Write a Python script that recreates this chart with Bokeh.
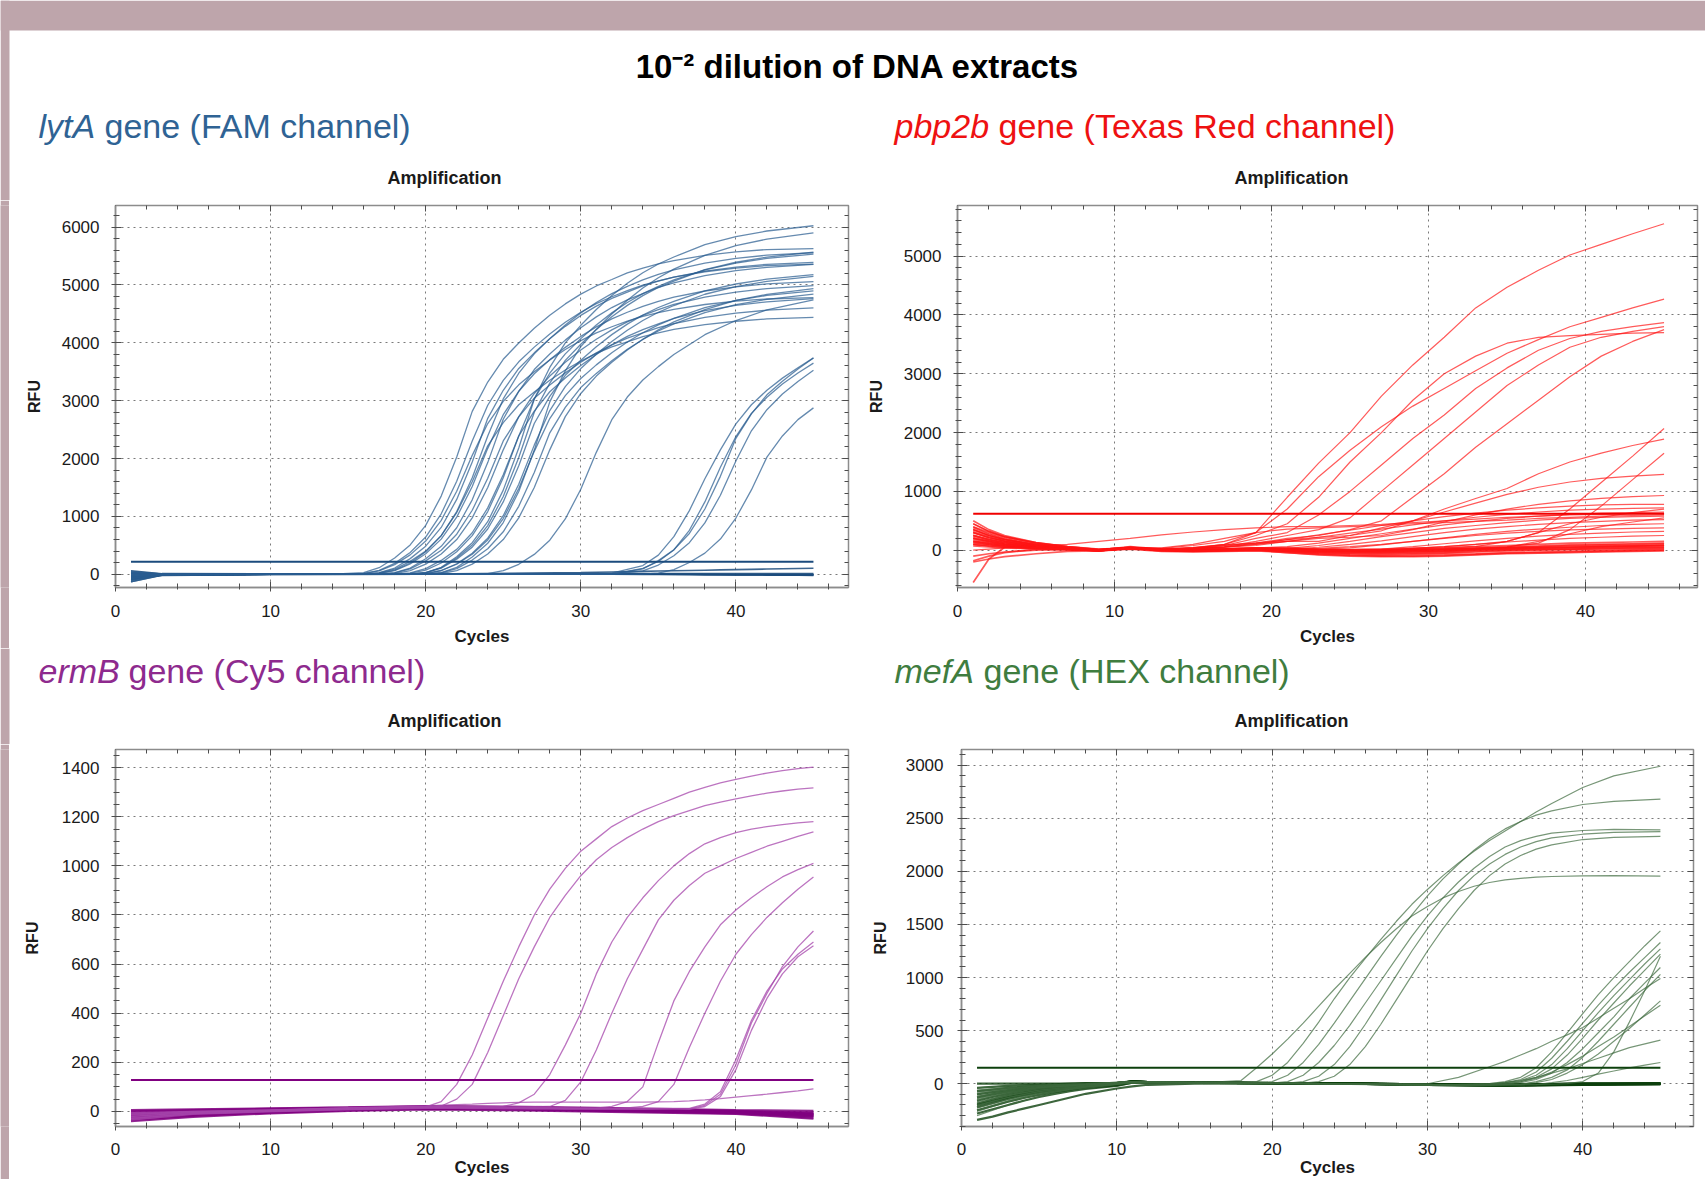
from bokeh.plotting import figure
from bokeh.models import (Range1d, LinearAxis, SingleIntervalTicker, Label,
                          BoxAnnotation, ColumnDataSource)
from bokeh.layouts import column, row
from bokeh.embed import file_html
from bokeh.resources import INLINE

FONT = "Liberation Sans"

# ------------------------------------------------------------------ data
# lytA (FAM)
LYTA_CYC = [1, 3, 10, 14, 16, 17, 18, 19, 20, 21, 22, 23, 24, 25, 26, 27, 28, 29,
            30, 31, 32, 33, 34, 35, 36, 38, 40, 42, 45]
LYTA_EARLY = [
    [-40, -5, 0, 0, 28, 113, 282, 507, 845, 1351, 2027, 2815, 3322, 3716, 3997, 4251, 4476, 4673, 4842, 4983, 5095, 5208, 5292, 5365, 5422, 5512, 5574, 5613, 5630],
    [20, 5, 0, 0, 12, 60, 167, 335, 574, 932, 1434, 2055, 2605, 2988, 3274, 3501, 3705, 3884, 4039, 4171, 4278, 4374, 4457, 4524, 4579, 4663, 4720, 4758, 4780],
    [-15, -2, 0, 0, 13, 67, 188, 376, 643, 1045, 1608, 2305, 2921, 3350, 3672, 3926, 4154, 4355, 4529, 4677, 4797, 4904, 4998, 5073, 5135, 5229, 5293, 5336, 5360],
    [-90, -10, 0, 0, 0, 27, 108, 270, 485, 809, 1294, 1940, 2695, 3180, 3557, 3827, 4069, 4285, 4474, 4635, 4770, 4878, 4986, 5067, 5137, 5239, 5309, 5358, 5390],
    [50, 5, 0, 0, 0, 22, 89, 222, 400, 666, 1066, 1598, 2220, 2620, 2930, 3152, 3352, 3530, 3685, 3818, 3929, 4018, 4107, 4174, 4231, 4316, 4373, 4413, 4440],
    [-60, -8, 0, 0, 0, 13, 63, 177, 354, 607, 987, 1518, 2176, 2758, 3163, 3466, 3706, 3922, 4111, 4276, 4415, 4529, 4630, 4718, 4789, 4896, 4969, 5020, 5057],
    [-45, -5, 0, 0, 0, 14, 70, 195, 389, 667, 1084, 1668, 2391, 3030, 3475, 3809, 4073, 4309, 4518, 4698, 4851, 4976, 5087, 5185, 5263, 5379, 5460, 5515, 5557],
    [-20, 0, 0, 0, 0, 0, 23, 92, 231, 415, 692, 1106, 1660, 2305, 2720, 3043, 3273, 3481, 3665, 3826, 3965, 4080, 4172, 4264, 4333, 4439, 4513, 4564, 4605],
    [-110, -12, 0, 0, 0, 0, 27, 107, 268, 482, 804, 1286, 1930, 2680, 3162, 3538, 3806, 4047, 4261, 4449, 4610, 4744, 4851, 4958, 5038, 5162, 5247, 5306, 5355],
    [30, 3, 0, 0, 0, 0, 13, 63, 175, 350, 600, 975, 1500, 2150, 2725, 3125, 3425, 3663, 3875, 4063, 4225, 4363, 4475, 4575, 4663, 4790, 4878, 4938, 4990],
    [25, 2, 0, 0, 0, 0, 0, 24, 96, 239, 430, 717, 1147, 1721, 2390, 2820, 3155, 3394, 3609, 3800, 3967, 4111, 4230, 4326, 4422, 4555, 4646, 4708, 4766],
    [-50, -6, 0, 0, 0, 0, 0, 14, 70, 195, 389, 667, 1084, 1668, 2391, 3030, 3475, 3809, 4073, 4309, 4518, 4698, 4851, 4976, 5087, 5263, 5379, 5460, 5535],
    [10, 0, 0, 0, 0, 0, 0, 0, 26, 104, 261, 469, 782, 1250, 1876, 2605, 3074, 3439, 3699, 3934, 4142, 4324, 4481, 4611, 4715, 4897, 5017, 5101, 5179],
    [-55, -6, 0, 0, 0, 0, 0, 0, 28, 112, 281, 504, 841, 1344, 2017, 2800, 3304, 3697, 3976, 4229, 4452, 4648, 4817, 4956, 5068, 5264, 5393, 5483, 5567],
    [-130, -15, -2, 0, 0, 0, 0, 0, 30, 121, 303, 545, 909, 1454, 2182, 3030, 3575, 4000, 4303, 4575, 4818, 5030, 5212, 5363, 5484, 5696, 5836, 5933, 6024],
    [-70, -8, 0, 0, 0, 0, 0, 0, 12, 62, 173, 346, 593, 963, 1482, 2124, 2692, 3088, 3384, 3619, 3829, 4014, 4174, 4310, 4421, 4607, 4733, 4819, 4900],
    [40, 4, 0, 0, 0, 0, 0, 0, 13, 65, 182, 363, 623, 1012, 1557, 2232, 2829, 3244, 3555, 3802, 4022, 4217, 4386, 4528, 4645, 4840, 4972, 5063, 5148],
    [-30, -4, 0, 0, 0, 0, 0, 0, 0, 30, 119, 298, 536, 894, 1430, 2146, 2980, 3516, 3934, 4232, 4500, 4738, 4947, 5126, 5275, 5513, 5680, 5793, 5900],
    [-80, -10, 0, 0, 0, 0, 0, 0, 0, 24, 98, 245, 440, 734, 1174, 1760, 2445, 2885, 3227, 3472, 3692, 3888, 4059, 4205, 4328, 4523, 4660, 4753, 4841],
    [0, 0, 0, 0, 0, 0, 0, 0, 0, 13, 63, 175, 350, 600, 975, 1500, 2150, 2725, 3125, 3425, 3663, 3875, 4063, 4225, 4363, 4575, 4733, 4838, 4938],
    [-100, -10, 0, 0, 0, 0, 0, 0, 0, 0, 0, 0, 12, 61, 172, 343, 588, 956, 1470, 2107, 2671, 3063, 3357, 3589, 3798, 4141, 4386, 4569, 4741],
]
LYTA_LATE_CYC = [1, 3, 10, 20, 30, 32, 34, 35, 36, 37, 38, 39, 40, 41, 42, 43, 44, 45]
LYTA_LATE = [
    [-20, 0, 0, 0, 0, 20, 150, 330, 650, 1100, 1650, 2150, 2600, 2930, 3180, 3390, 3570, 3740],
    [15, 0, 0, 0, 0, 0, 57, 159, 319, 546, 887, 1365, 1957, 2480, 2844, 3117, 3333, 3526],
    [-60, 0, 0, 0, 0, 0, 94, 235, 423, 705, 1128, 1692, 2350, 2773, 3102, 3337, 3549, 3737],
    [-30, 0, 0, 0, 0, 0, 0, 20, 81, 203, 365, 608, 972, 1458, 2025, 2390, 2673, 2876],
    [0, 0, 0, 0, 0, 0, 100, 220, 420, 760, 1250, 1850, 2380, 2780, 3060, 3290, 3480, 3650],
]
LYTA_FLAT = [
    [-130, -15, -5, 0, 0, 0, 0, 0, 0, -5, -5, -5, -10, -10, -10, -15, -15, -20],
    [60, 10, 5, 5, 10, 10, 10, 10, 10, 10, 10, 10, 10, 10, 10, 10, 10, 10],
    [-80, -20, -5, 0, 0, 0, -5, -5, -5, -5, -10, -10, -10, -10, -15, -15, -15, -15],
    [-50, -5, 0, 5, 30, 40, 50, 55, 60, 65, 70, 75, 80, 85, 90, 95, 100, 103],
    [20, 0, 0, 0, 0, 0, 0, 0, 0, 0, 0, 0, 0, 0, 0, 0, 0, 0],
    [-100, -10, 0, 0, 0, 0, 0, 0, -5, -5, -5, -8, -8, -8, -10, -10, -12, -12],
]
LYTA_THRESHOLD = 218

# pbp2b (Texas Red)
PBP_CYC = [1, 2, 3, 5, 7, 9, 11, 13, 15, 17, 19, 21, 23, 25, 27, 29, 31, 33, 35, 37, 39, 41, 43, 45]
PBP_RISING = [
    [300, 210, 150, 75, 30, 0, 40, 10, 40, 100, 300, 900, 1480, 2000, 2620, 3150, 3620, 4120, 4470, 4760, 5020, 5200, 5380, 5550],
    [200, 150, 110, 60, 25, 0, 40, 30, 80, 150, 300, 700, 1250, 1700, 2100, 2450, 2750, 3050, 3350, 3580, 3800, 3960, 4120, 4270],
    [450, 320, 230, 120, 50, 10, 50, 20, 30, 100, 250, 450, 900, 1500, 2000, 2550, 3000, 3300, 3520, 3620, 3650, 3670, 3690, 3700],
    [150, 110, 80, 40, 15, -10, 30, 0, 20, 80, 200, 300, 600, 1000, 1450, 1900, 2300, 2750, 3100, 3400, 3600, 3720, 3800, 3870],
    [250, 180, 130, 65, 25, 0, 40, 10, 20, 60, 150, 250, 350, 550, 1000, 1450, 1900, 2350, 2800, 3150, 3450, 3620, 3720, 3800],
    [100, 70, 50, 25, 10, -10, 30, 0, 10, 50, 120, 200, 250, 350, 500, 900, 1300, 1750, 2150, 2550, 2950, 3300, 3550, 3750],
    [350, 250, 180, 90, 35, 0, 40, 20, 50, 90, 120, 150, 150, 250, 330, 500, 700, 880, 1050, 1300, 1500, 1650, 1780, 1890],
    [200, 140, 100, 50, 20, -10, 30, 10, 40, 80, 120, 180, 220, 250, 380, 500, 650, 800, 950, 1070, 1160, 1220, 1260, 1290],
    [120, 90, 65, 35, 15, -5, 35, 10, 30, 60, 100, 150, 200, 220, 250, 350, 480, 600, 700, 780, 840, 880, 910, 930],
    [400, 280, 200, 100, 40, 0, 40, 0, -20, -10, 0, -20, -30, -20, 0, 30, 60, 100, 150, 300, 700, 1150, 1600, 2070],
    [180, 130, 90, 45, 20, -10, 30, 0, -10, 0, 10, -10, -30, -40, -20, 0, 20, 40, 60, 120, 350, 750, 1200, 1650],
    [0, 20, 40, 80, 100, 150, 200, 260, 310, 350, 380, 400, 400, 420, 440, 470, 500, 530, 560, 580, 600, 610, 620, 630],
]
PBP_MID = [
    [350, 250, 180, 90, 35, 0, 40, 20, 40, 50, 100, 180, 260, 340, 420, 500, 570, 630, 680, 720, 750, 770, 780, 780],
    [220, 160, 110, 55, 20, -5, 35, 10, 30, 50, 80, 150, 220, 290, 360, 430, 500, 560, 610, 650, 680, 700, 710, 720],
    [300, 210, 150, 75, 30, 0, 40, 10, 20, 30, 40, 60, 120, 200, 280, 360, 430, 490, 540, 580, 610, 630, 640, 650],
    [160, 115, 80, 40, 15, -5, 35, 5, 10, 20, 25, 30, 80, 150, 230, 300, 370, 420, 470, 510, 540, 560, 570, 580],
    [260, 190, 135, 70, 25, 0, 40, 10, 0, 10, 20, 20, 50, 100, 160, 230, 300, 360, 400, 440, 470, 490, 510, 520],
    [130, 95, 70, 35, 15, -5, 35, 5, 0, 5, 10, 10, 20, 40, 90, 150, 210, 270, 320, 360, 390, 420, 440, 450],
    [380, 270, 190, 95, 40, 5, 45, 15, 10, 15, 20, 25, 30, 60, 100, 150, 200, 250, 290, 320, 345, 360, 370, 380],
    [90, 65, 45, 25, 10, -10, 30, 0, -10, -5, 0, 0, 0, 10, 20, 60, 110, 160, 200, 240, 270, 290, 310, 320],
    [240, 170, 120, 60, 25, 0, 40, 40, 100, 200, 300, 360, 380, 400, 420, 450, 470, 490, 510, 540, 560, 580, 590, 600],
    [70, 50, 35, 20, 5, -10, 30, 0, -15, -10, -5, -10, -20, -10, 0, 30, 60, 100, 140, 170, 200, 220, 240, 250],
    [320, 230, 160, 80, 30, 0, 40, 10, 0, 10, 20, 10, 0, 0, 10, 20, 40, 60, 150, 300, 450, 560, 640, 700],
    [140, 100, 70, 35, 15, -5, 35, 5, -5, 0, 10, 0, -10, -10, 0, 10, 20, 30, 50, 150, 280, 400, 480, 550],
]
PBP_BASE = [
    [500, 350, 250, 130, 60, 20, 40, 10, 0, 10, 20, 0, -30, -40, -40, -30, -20, 0, 20, 30, 40, 50, 60, 70],
    [400, 300, 220, 120, 60, 10, 50, 0, -10, 0, 10, -20, -50, -60, -60, -50, -40, -20, 0, 10, 20, 30, 40, 50],
    [350, 250, 180, 100, 40, 0, 30, -10, -20, -10, 0, -40, -80, -100, -110, -100, -90, -70, -50, -40, -30, -20, -10, 0],
    [300, 220, 160, 90, 40, 0, 60, 20, 10, 20, 40, 30, 10, 0, 0, 10, 20, 30, 50, 60, 80, 90, 100, 110],
    [250, 180, 130, 70, 30, -10, 20, -20, -30, -20, -10, -40, -70, -90, -100, -110, -100, -80, -60, -50, -40, -30, -20, -10],
    [200, 150, 100, 60, 20, -10, 30, -10, -10, 0, 20, 10, -10, -20, -30, -20, -10, 10, 30, 40, 50, 60, 70, 80],
    [150, 120, 90, 50, 20, -5, 40, 0, -5, 5, 15, 0, -20, -30, -40, -30, -20, 0, 10, 20, 20, 30, 40, 40],
    [100, 80, 60, 40, 20, 0, 30, 0, 0, 10, 30, 20, 0, -10, -10, 0, 10, 20, 40, 50, 60, 70, 80, 90],
    [-100, -60, -30, 0, 10, 0, 40, 10, 0, 10, 20, -10, -40, -60, -70, -60, -50, -30, -10, 0, 10, 10, 20, 30],
    [-200, -150, -110, -60, -20, -10, 30, 0, -10, 0, 10, -20, -60, -80, -90, -80, -70, -60, -40, -30, -20, -10, 0, 10],
    [-550, -150, 50, 80, 40, 0, 40, 10, 0, 10, 30, 10, -10, -20, -20, -10, 0, 20, 30, 40, 50, 60, 70, 80],
    [450, 320, 230, 130, 60, 10, 50, 10, 0, 20, 40, 40, 20, 10, 20, 30, 40, 60, 80, 100, 120, 130, 140, 150],
    [-180, -100, -40, 20, 30, 10, 50, 20, 10, 20, 30, 20, 0, -10, -10, 0, 10, 30, 50, 70, 90, 100, 110, 120],
]
PBP_THRESHOLD = 622

# ermB (Cy5)
ERMB_CYC = [1, 5, 10, 15, 20, 21, 22, 23, 24, 25, 26, 27, 28, 29, 30, 31, 32, 33,
            34, 35, 36, 37, 38, 39, 40, 41, 42, 43, 44, 45]
ERMB_CURVES = [
    [-10, 0, 5, 12, 18, 40, 110, 230, 380, 530, 670, 800, 905, 990, 1060, 1110, 1160, 1195, 1225, 1250, 1275, 1300, 1320, 1338, 1352, 1366, 1378, 1388, 1396, 1402],
    [-20, -5, 3, 10, 15, 22, 50, 110, 240, 390, 540, 670, 790, 880, 960, 1025, 1075, 1115, 1150, 1180, 1205, 1225, 1245, 1260, 1273, 1285, 1296, 1305, 1313, 1318],
    [-25, -8, 2, 10, 15, 16, 17, 18, 19, 20, 35, 70, 150, 270, 400, 560, 690, 790, 870, 940, 1000, 1050, 1090, 1115, 1135, 1150, 1160, 1168, 1175, 1180],
    [-15, -3, 4, 12, 18, 18, 18, 18, 18, 18, 18, 19, 20, 45, 120, 250, 400, 540, 660, 780, 860, 920, 970, 1000, 1030, 1055, 1080, 1100, 1120, 1138],
    [-30, -10, 0, 8, 14, 14, 14, 13, 13, 12, 12, 12, 12, 12, 12, 13, 20, 40, 100, 280, 450, 570, 670, 760, 820, 870, 915, 955, 985, 1010],
    [-5, 0, 6, 14, 20, 20, 19, 19, 18, 18, 17, 16, 15, 14, 13, 12, 12, 14, 20, 40, 110, 260, 400, 530, 640, 720, 790, 850, 905, 955],
    [-35, -12, -2, 6, 12, 12, 12, 11, 11, 10, 10, 9, 9, 8, 8, 8, 8, 8, 8, 9, 10, 10, 25, 70, 190, 360, 480, 590, 670, 735],
    [-12, -2, 5, 12, 18, 18, 17, 17, 16, 16, 15, 15, 14, 14, 13, 13, 12, 12, 12, 12, 12, 12, 30, 80, 210, 370, 490, 580, 640, 690],
    [-28, -9, 1, 9, 15, 15, 15, 14, 14, 13, 13, 12, 12, 11, 11, 10, 10, 10, 10, 10, 10, 8, 20, 60, 170, 330, 460, 560, 630, 675],
    [-20, -5, 5, 15, 22, 25, 28, 30, 33, 35, 37, 38, 38, 38, 38, 38, 38, 38, 38, 39, 40, 43, 47, 52, 58, 64, 70, 77, 84, 92],
]
ERMB_BASE_CYC = [1, 5, 10, 15, 20, 25, 30, 35, 40, 45]
ERMB_BASE = [
    [-35, -18, -5, 5, 10, 8, 3, -2, -8, -25],
    [-20, -10, 0, 8, 14, 12, 8, 3, -3, -15],
    [-5, 0, 5, 12, 18, 15, 10, 5, 0, -10],
    [0, 5, 10, 15, 20, 18, 12, 8, 2, -5],
    [-28, -12, -3, 6, 12, 10, 5, 0, -5, -18],
    [-12, -5, 3, 10, 16, 14, 9, 4, -2, -8],
    [5, 8, 12, 16, 22, 20, 15, 10, 5, 2],
    [-40, -22, -8, 2, 8, 5, 0, -5, -10, -30],
    [-15, -6, 2, 9, 15, 13, 7, 2, -4, -12],
    [-25, -14, -2, 7, 13, 11, 6, 1, -6, -20],
]
ERMB_THRESHOLD = 128

# mefA (HEX)
MEFA_CYC = [1, 3, 5, 8, 11, 15, 18, 19, 20, 21, 22, 23, 24, 25, 26, 27, 28, 29,
            30, 31, 32, 33, 34, 35, 36, 37, 38, 40, 42, 45]
MEFA_EARLY = [
    [-180, -110, -60, -20, 15, 5, 30, 150, 280, 420, 570, 730, 890, 1040, 1190, 1330, 1460, 1580, 1670, 1750, 1810, 1860, 1895, 1920, 1935, 1945, 1952, 1958, 1960, 1955],
    [-120, -70, -35, -10, 20, 5, 5, 20, 80, 200, 380, 580, 800, 1000, 1180, 1360, 1530, 1690, 1830, 1960, 2080, 2190, 2290, 2380, 2470, 2560, 2640, 2790, 2900, 2990],
    [-250, -160, -90, -30, 15, 5, 0, 5, 20, 80, 200, 370, 570, 780, 990, 1200, 1400, 1590, 1770, 1930, 2070, 2200, 2310, 2400, 2470, 2530, 2570, 2630, 2660, 2680],
    [-80, -45, -20, -5, 20, 5, 0, 0, 5, 20, 80, 200, 360, 550, 760, 970, 1180, 1390, 1580, 1750, 1900, 2030, 2140, 2230, 2290, 2330, 2360, 2385, 2395, 2390],
    [-150, -90, -50, -15, 15, 5, 0, 0, 0, 5, 20, 70, 180, 350, 560, 790, 1020, 1250, 1460, 1650, 1820, 1960, 2070, 2160, 2230, 2280, 2315, 2350, 2368, 2375],
    [-210, -130, -75, -25, 15, 5, 0, 0, 0, 0, 5, 20, 70, 180, 350, 560, 790, 1020, 1250, 1460, 1650, 1820, 1960, 2070, 2150, 2210, 2250, 2300, 2320, 2330],
]
MEFA_LATE_CYC = [1, 3, 5, 8, 11, 20, 30, 32, 34, 35, 36, 37, 38, 39, 40, 41, 42, 43, 44, 45]
MEFA_LATE = [
    [-300, -200, -120, -45, 10, 0, 0, 60, 160, 210, 270, 330, 400, 460, 530, 620, 710, 800, 900, 990],
    [-60, -35, -15, 0, 20, 5, -10, -10, 0, 20, 60, 150, 300, 480, 660, 840, 1000, 1150, 1300, 1440],
    [-140, -85, -45, -12, 15, 5, -10, -10, -5, 10, 40, 110, 240, 400, 570, 740, 900, 1050, 1190, 1330],
    [-100, -60, -30, -8, 20, 5, -10, -12, -5, 10, 30, 80, 180, 330, 500, 670, 830, 980, 1130, 1270],
    [-230, -150, -85, -30, 10, 3, -15, -15, -10, -5, 20, 60, 140, 270, 430, 600, 760, 920, 1070, 1220],
    [-170, -105, -60, -20, 15, 5, -10, -12, -10, -5, 10, 40, 100, 200, 330, 480, 630, 800, 950, 1095],
    [-40, -20, -10, 0, 20, 5, -8, -10, -10, -8, -5, 20, 60, 130, 250, 400, 560, 720, 880, 1030],
    [-120, -70, -35, -10, 15, 5, -10, -12, -10, -8, -5, 10, 40, 100, 180, 280, 400, 520, 650, 780],
    [-200, -130, -75, -25, 10, 3, -12, -12, -5, 5, 20, 50, 110, 180, 260, 350, 440, 540, 640, 740],
    [-90, -50, -25, -5, 20, 5, -8, -5, 0, 10, 30, 60, 100, 140, 190, 240, 290, 340, 375, 410],
    [-130, -80, -40, -10, 15, 5, -10, -10, -10, -10, -10, -8, 10, 30, 60, 90, 120, 150, 175, 200],
    [-260, -170, -100, -35, 10, 3, -12, -15, -12, -10, -10, -8, -5, 0, 20, 100, 300, 580, 880, 1200],
]
MEFA_BASE_CYC = [1, 2, 3, 4, 5, 6, 7, 8, 10, 11, 12, 15, 20, 25, 30, 35, 40, 45]
MEFA_BASE = [
    [-340, -310, -270, -235, -200, -165, -130, -95, -45, -25, -10, 0, 5, 0, -10, -15, -5, 0],
    [-250, -210, -170, -135, -105, -80, -60, -40, -15, 10, 15, 10, 5, 0, -10, -15, -5, 0],
    [-220, -180, -140, -110, -85, -60, -40, -25, -5, 20, 15, 10, 5, 0, -10, -20, -10, -5],
    [-190, -150, -115, -85, -60, -40, -25, -15, 0, 20, 15, 10, 5, 0, -5, -10, 0, 0],
    [-160, -125, -95, -70, -50, -35, -20, -10, 0, 25, 15, 10, 5, 0, -8, -12, -5, -2],
    [-130, -100, -75, -55, -40, -25, -15, -5, 5, 25, 15, 10, 5, 0, -5, -10, 0, 0],
    [-100, -80, -60, -45, -30, -20, -10, -5, 5, 20, 15, 10, 5, 0, -5, -10, -5, 0],
    [-70, -55, -40, -30, -20, -12, -6, 0, 5, 20, 15, 10, 5, 0, -5, -10, 0, 5],
    [-40, -30, -20, -15, -10, -5, 0, 0, 5, 20, 15, 10, 5, 0, -5, -8, 0, 0],
    [0, 0, 0, 0, 0, 0, 0, 5, 5, 20, 15, 10, 5, 0, -5, -10, -5, -5],
    [-200, -165, -130, -100, -75, -55, -38, -25, -5, 15, 12, 8, 5, 0, -8, -15, -8, -3],
    [-280, -240, -200, -160, -125, -95, -70, -50, -20, 10, 10, 8, 5, 0, -10, -18, -8, -2],
]
MEFA_THRESHOLD = 150

TITLE = "10\u207b\u00b2 dilution of DNA extracts"
HEADERS = [
    ("lytA", "gene (FAM channel)"),
    ("pbp2b", "gene (Texas Red channel)"),
    ("ermB", "gene (Cy5 channel)"),
    ("mefA", "gene (HEX channel)"),
]
HEADER_COLORS = ["#2f6394", "#ee1111", "#8e2a8e", "#3f7d3f"]

# ------------------------------------------------------------------ helpers
MAUVE = "#bea5ab"
AXIS_GREY = "#8c8c8c"
TICK_COLOR = "#4d4d4d"


def make_panel(width, height, x_end, y_start, y_end, y_interval, y_minor,
               left, right, top, bottom, x_std, x_lab_std, y_std, y_lab_std):
    p = figure(width=width, height=height, title=None,
               x_range=Range1d(0, x_end), y_range=Range1d(y_start, y_end),
               output_backend="svg", toolbar_location=None,
               min_border_left=left, min_border_right=right,
               min_border_top=top, min_border_bottom=bottom,
               background_fill_color="white", border_fill_color="white")
    xt = SingleIntervalTicker(interval=10, num_minor_ticks=5)
    yt = SingleIntervalTicker(interval=y_interval, num_minor_ticks=y_minor)
    p.xaxis.ticker = xt
    p.yaxis.ticker = yt
    p.xgrid.ticker = xt
    p.ygrid.ticker = yt
    p.xaxis.axis_label = "Cycles"
    p.yaxis.axis_label = "RFU"
    for ax in (p.xaxis[0], p.yaxis[0]):
        ax.axis_line_color = AXIS_GREY
        ax.axis_line_width = 1.5
        ax.major_tick_line_color = TICK_COLOR
        ax.minor_tick_line_color = TICK_COLOR
        ax.major_tick_in = 6
        ax.major_tick_out = 4
        ax.minor_tick_in = 4
        ax.minor_tick_out = 2
        ax.major_label_text_font = FONT
        ax.major_label_text_font_size = "17px"
        ax.major_label_text_color = "#1a1a1a"
        ax.axis_label_text_font = FONT
        ax.axis_label_text_font_style = "bold"
        ax.axis_label_text_color = "#1a1a1a"
    p.xaxis.major_label_standoff = x_std
    p.xaxis.axis_label_standoff = x_lab_std
    p.xaxis.axis_label_text_font_size = "17px"
    p.yaxis.major_label_standoff = y_std
    p.yaxis.axis_label_standoff = y_lab_std
    p.yaxis.axis_label_text_font_size = "16px"
    # tick marks on the top and right edges of the frame (no labels drawn)
    for loc, tk in (("above", xt), ("right", yt)):
        ax = LinearAxis(ticker=tk, axis_line_color=None,
                        major_label_text_font_size="1px",
                        major_label_text_color=None, major_label_standoff=0,
                        major_tick_in=6, major_tick_out=0,
                        minor_tick_in=4, minor_tick_out=0,
                        major_tick_line_color=TICK_COLOR,
                        minor_tick_line_color=TICK_COLOR)
        p.add_layout(ax, loc)
    p.outline_line_color = AXIS_GREY
    p.outline_line_width = 1.5
    for g in (p.xgrid[0], p.ygrid[0]):
        g.grid_line_color = "#7a7a7a"
        g.grid_line_dash = "2 4"
        g.grid_line_width = 1
    return p


def draw(p, cycles, series, color, alpha, width):
    src = ColumnDataSource(dict(xs=[list(cycles) for _ in series],
                                ys=[list(s) for s in series]))
    p.multi_line(xs="xs", ys="ys", source=src, line_color=color,
                 line_alpha=alpha, line_width=width)


def threshold(p, cycles, thr, color, width):
    p.line(x=[cycles[0], cycles[-1]], y=[thr, thr], line_color=color,
           line_width=width)


def header_fig(height, y_top, y_bottom):
    h = figure(width=1705, height=height, title=None,
               x_range=Range1d(0, 1705), y_range=Range1d(y_bottom, y_top),
               x_axis_type=None, y_axis_type=None, output_backend="svg",
               toolbar_location=None, min_border_left=0, min_border_right=0,
               min_border_top=0, min_border_bottom=0, outline_line_color=None,
               background_fill_color="white", border_fill_color="white")
    h.add_layout(BoxAnnotation(left=0, right=9, top=y_top, bottom=y_bottom,
                               fill_color=MAUVE, fill_alpha=1.0, line_color=None))
    return h


def strip_fig(height):
    s = figure(width=9, height=height, title=None, x_axis_type=None,
               y_axis_type=None, output_backend="svg", toolbar_location=None,
               min_border_left=0, min_border_right=0, min_border_top=0,
               min_border_bottom=0, outline_line_color=None,
               background_fill_color=MAUVE, border_fill_color=MAUVE)
    return s


def add_text(fig, x, y, text, size, color, style="normal", align="left"):
    fig.add_layout(Label(x=x, y=y, text=text, text_font=FONT,
                         text_font_size=size, text_color=color,
                         text_font_style=style, text_align=align,
                         text_baseline="middle"))


def gene_header(fig, x_it, x_rest, y, idx):
    it, rest = HEADERS[idx]
    add_text(fig, x_it, y, it, "34px", HEADER_COLORS[idx], "italic")
    add_text(fig, x_rest, y, rest, "34px", HEADER_COLORS[idx])


# ------------------------------------------------------------------ headers
h1 = header_fig(200, 0, 200)
h1.add_layout(BoxAnnotation(left=0, right=1705, top=0, bottom=30,
                            fill_color=MAUVE, fill_alpha=1.0, line_color=None))
add_text(h1, 857, 66, TITLE, "33px", "black", "bold", "center")
gene_header(h1, 38, 104, 125, 0)
gene_header(h1, 894, 998, 125, 1)
add_text(h1, 444, 177, "Amplification", "18px", "#1a1a1a", "bold", "center")
add_text(h1, 1291, 177, "Amplification", "18px", "#1a1a1a", "bold", "center")

h2 = header_fig(96, 648, 744)
gene_header(h2, 38, 128, 670, 2)
gene_header(h2, 894, 983, 670, 3)
add_text(h2, 444, 720, "Amplification", "18px", "#1a1a1a", "bold", "center")
add_text(h2, 1291, 720, "Amplification", "18px", "#1a1a1a", "bold", "center")

# ------------------------------------------------------------------ panels
p1 = make_panel(853, 448, 47.26, -229, 6374, 1000, 5, 106, 14, 5, 60, 13, 7, 12, 16)
draw(p1, LYTA_LATE_CYC, LYTA_FLAT, "#1b4b7d", 0.85, 1.6)
draw(p1, LYTA_CYC, LYTA_EARLY, "#2a5d90", 0.72, 1.3)
draw(p1, LYTA_LATE_CYC, LYTA_LATE, "#2a5d90", 0.72, 1.3)
threshold(p1, LYTA_CYC, LYTA_THRESHOLD, "#1b4b7d", 2)

p2 = make_panel(843, 448, 47.13, -634, 5861, 1000, 5, 95, 8, 5, 60, 13, 7, 12, 16)
draw(p2, PBP_CYC, PBP_BASE, "#ff1414", 0.7, 1.7)
draw(p2, PBP_CYC, PBP_MID, "#ff1414", 0.7, 1.2)
draw(p2, PBP_CYC, PBP_RISING, "#ff1414", 0.7, 1.2)
threshold(p2, PBP_CYC, PBP_THRESHOLD, "#f00000", 2)

p3 = make_panel(853, 435, 47.26, -61.5, 1474, 200, 4, 106, 14, 5, 51, 12, 0, 12, 18)
draw(p3, ERMB_BASE_CYC, ERMB_BASE, "#800080", 0.85, 2.2)
draw(p3, ERMB_CYC, ERMB_CURVES, "#a545ab", 0.75, 1.3)
threshold(p3, ERMB_CYC, ERMB_THRESHOLD, "#800080", 2)

p4 = make_panel(843, 435, 47.13, -403, 3148, 500, 5, 99, 12, 5, 51, 12, 0, 14, 14)
draw(p4, MEFA_BASE_CYC, MEFA_BASE, "#0d400d", 0.8, 2.2)
draw(p4, MEFA_CYC, MEFA_EARLY, "#3d6a3d", 0.7, 1.2)
draw(p4, MEFA_LATE_CYC, MEFA_LATE, "#3d6a3d", 0.7, 1.2)
threshold(p4, MEFA_CYC, MEFA_THRESHOLD, "#0d400d", 2)

layout = column(h1, row(strip_fig(448), p1, p2), h2, row(strip_fig(435), p3, p4))

open("out.html", "w").write(file_html(layout, INLINE, title="10-2 dilution of DNA extracts"))
